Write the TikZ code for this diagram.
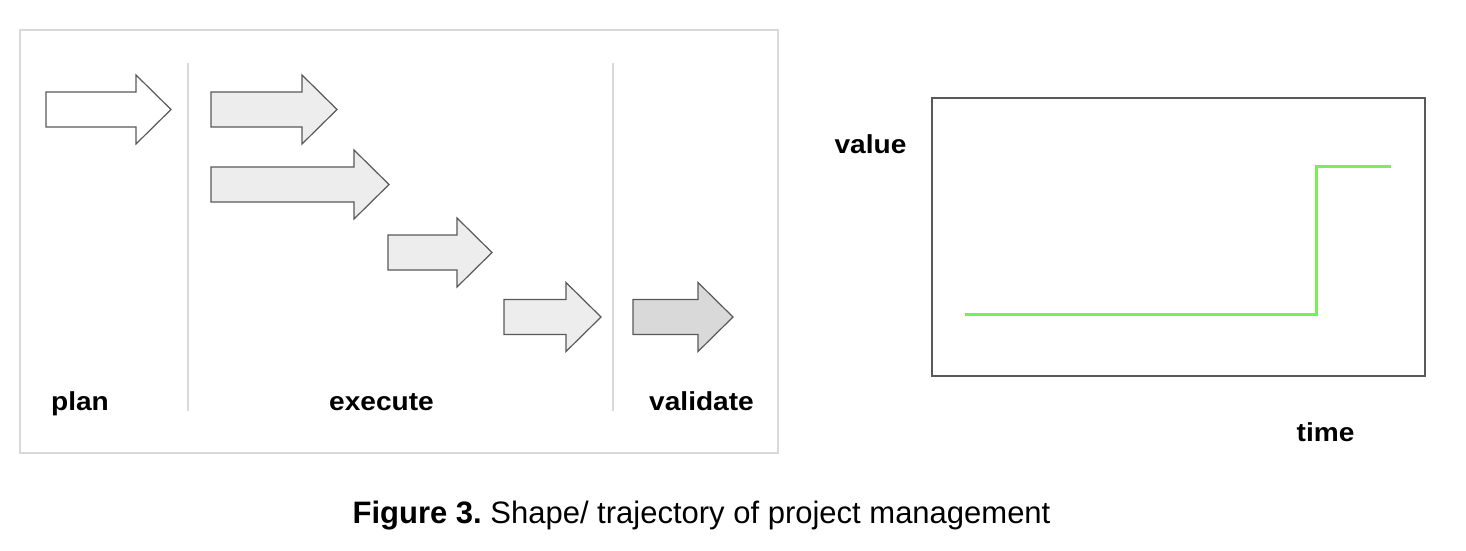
\documentclass[tikz,border=0pt]{standalone}
\usepackage{fontspec}
\setmainfont{Liberation Sans}
\usepackage{graphicx}
\usepackage{xcolor}
\usepackage{tikz}
\definecolor{framegray}{HTML}{D9D9D9}
\definecolor{edgegray}{HTML}{595959}
\definecolor{stepgreen}{HTML}{77F055}
\newcommand{\widelabel}[1]{\scalebox{1.08}[1]{#1}}
\tikzset{
frame/.style={draw=framegray,line width=1.5pt},
divider/.style={draw=framegray,line width=2pt},
blockarrow/.style={draw=edgegray,line width=1.2pt,line join=miter},
label/.style={font=\fontsize{26}{30}\selectfont\bfseries,inner sep=0pt,anchor=base},
caption/.style={font=\fontsize{31}{36}\selectfont,inner sep=0pt,anchor=base}
}
\begin{document}
\begin{tikzpicture}[x=1pt,y=-1pt]
\useasboundingbox (0,0) rectangle (1466,550);
% the left frame
\draw[frame] (20,30) rectangle (778,453);
\draw[divider] (188,63) -- (188,411);
\draw[divider] (613,63) -- (613,411);
% the arrows
\foreach \x/\y/\len/\col in {46/109.5/125/white, 211/109.5/126/gray!14,
  211/184.5/178/gray!14, 388/252.5/104/gray!14, 504/317/97/gray!14,
  633/317/100/gray!30}
{
  \draw[blockarrow,fill=\col]
    (\x,\y-17.5) -- (\x+\len-35,\y-17.5) -- (\x+\len-35,\y-34.5)
    -- (\x+\len,\y) -- (\x+\len-35,\y+34.5) -- (\x+\len-35,\y+17.5)
    -- (\x,\y+17.5) -- cycle;
}
\node[label] (plan) at (80,410) {\widelabel{plan}};
\node[label] (execute) at (381.5,410) {\widelabel{execute}};
\node[label] (validate) at (701.5,410) {\widelabel{validate}};
% the value plot
\draw[draw=edgegray,line width=1.2pt] (932,98) rectangle (1425,376);
\node[label] (value) at (870.5,153) {\widelabel{value}};
\node[label] (time) at (1325.5,441) {\widelabel{time}};
\draw[stepgreen,line width=3pt] (965,314) -- (1316,314) -- (1316,166) -- (1391,166);
% the caption
\node[caption] (caption) at (701.5,523) {\frenchspacing\textbf{Figure 3.} Shape/ trajectory of project management};
\end{tikzpicture}
\end{document}
